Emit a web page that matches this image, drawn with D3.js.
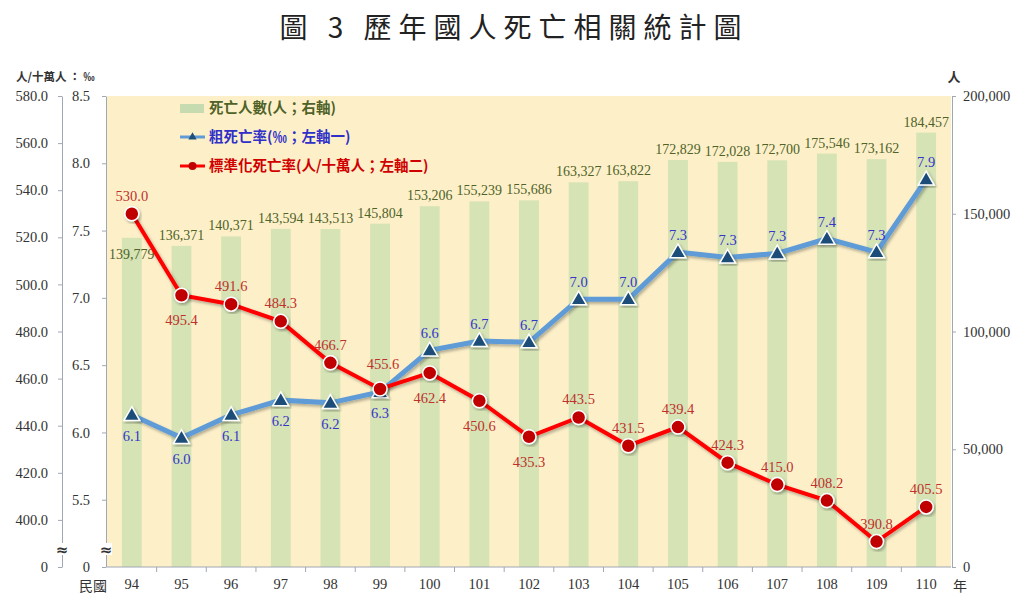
<!DOCTYPE html>
<html>
<head>
<meta charset="utf-8">
<script src="https://cdn.jsdelivr.net/npm/d3@7"></script>
<style>
  body { margin: 0; background: #fff; }
  svg text { font-family: "Liberation Serif", "DejaVu Serif", serif; }
  .cjk { font-family: "Noto Sans CJK TC", "Noto Sans", sans-serif; }
</style>
</head>
<body>
<svg id="drawing_region"></svg>
<script>
// 民國年
const years = ["94","95","96","97","98","99","100","101","102","103","104","105","106","107","108","109","110"];
// 死亡人數 (人, right axis)
const deaths = [139779,136371,140371,143594,143513,145804,153206,155239,155686,163327,163822,172829,172028,172700,175546,173162,184457];
// 粗死亡率 (‰, left axis 1)
const crudeRate = [6.13,5.96,6.13,6.24,6.22,6.30,6.61,6.68,6.67,6.99,6.99,7.34,7.30,7.33,7.44,7.34,7.88];
// 標準化死亡率 (人/十萬人, left axis 2)
const stdRate = [530.0,495.4,491.6,484.3,466.7,455.6,462.4,450.6,435.3,443.5,431.5,439.4,424.3,415.0,408.2,390.8,405.5];

const stdTicks = [380,400,420,440,460,480,500,520,540,560,580];
const crudeTicks = [5.0,5.5,6.0,6.5,7.0,7.5,8.0,8.5];
const deathTicks = [0,50000,100000,150000,200000];

const legendLabels = ["死亡人數(人；右軸)", "粗死亡率(‰；左軸一)", "標準化死亡率(人/十萬人；左軸二)"];

const config = {
    width: 1024,
    height: 600,
    plot: {left: 107, right: 951, top: 96, bottom: 567}
};

const svg = d3.select('#drawing_region')
    .attr('width', config.width)
    .attr('height', config.height);

const p = config.plot;

const defs = svg.append('defs');
const shadow = defs.append('filter').attr('id', 'shadow')
    .attr('x', '-20%').attr('y', '-20%').attr('width', '140%').attr('height', '140%');
shadow.append('feDropShadow')
    .attr('dx', 1.5).attr('dy', 2).attr('stdDeviation', 1.5)
    .attr('flood-color', '#000').attr('flood-opacity', 0.3);

// scales
const xscale = d3.scaleBand()
    .domain(years)
    .range([p.left, p.right])
    .paddingInner(0.6)
    .paddingOuter(0.3);

const yDeaths = d3.scaleLinear().domain([0, 200000]).range([p.bottom, p.top]);
const yCrude = d3.scaleLinear().domain([5.0, 8.5]).range([p.bottom, p.top]);
const yStd = d3.scaleLinear().domain([380, 580]).range([p.bottom, p.top]);

// title
svg.append('text')
    .attr('class', 'cjk')
    .attr('x', 514).attr('y', 38)
    .attr('text-anchor', 'middle')
    .style('font-size', '28px')
    .style('letter-spacing', '7px')
    .attr('fill', '#222')
    .text('圖 3  歷年國人死亡相關統計圖');

// plot background
svg.append('rect')
    .attr('x', p.left).attr('y', p.top)
    .attr('width', p.right - p.left).attr('height', p.bottom - p.top)
    .attr('fill', '#fdf0c9');

// bars
svg.append('g').selectAll('rect')
    .data(deaths)
    .join('rect')
    .attr('x', (d, i) => xscale(years[i]))
    .attr('y', d => yDeaths(d))
    .attr('width', xscale.bandwidth())
    .attr('height', d => yDeaths(0) - yDeaths(d))
    .attr('fill', '#d5e3b5');

// axes
function styleAxis(g) {
    g.select('.domain').attr('stroke', '#a0a8b4');
    g.selectAll('.tick line').attr('stroke', '#a0a8b4');
    g.selectAll('.tick text')
        .style('font-family', '"Liberation Serif", serif')
        .style('font-size', '14.5px')
        .attr('fill', '#333');
}

const axisStd = d3.axisLeft(yStd)
    .tickValues(stdTicks)
    .tickSize(4).tickSizeOuter(0).tickPadding(10)
    .tickFormat(d => d === 380 ? '0' : d3.format('.1f')(d));
svg.append('g').attr('transform', 'translate(62,0)').call(axisStd).call(styleAxis);

const axisCrude = d3.axisLeft(yCrude)
    .tickValues(crudeTicks)
    .tickSize(4).tickSizeOuter(0).tickPadding(12)
    .tickFormat(d => d === 5.0 ? '0' : d3.format('.1f')(d));
svg.append('g').attr('transform', `translate(${p.left - 1},0)`).call(axisCrude).call(styleAxis);

const axisDeaths = d3.axisRight(yDeaths)
    .tickValues(deathTicks)
    .tickSize(4).tickSizeOuter(0).tickPadding(7)
    .tickFormat(d3.format(','));
svg.append('g').attr('transform', `translate(${p.right + 1},0)`).call(axisDeaths).call(styleAxis);

// x axis: ticks between categories
const xAxisG = svg.append('g').attr('transform', `translate(0,${p.bottom})`);
xAxisG.append('line')
    .attr('x1', p.left).attr('x2', p.right)
    .attr('stroke', '#a0a8b4');
xAxisG.selectAll('.sep')
    .data(years.slice(1))
    .join('line')
    .attr('x1', d => xscale(d) - xscale.step() * xscale.paddingInner() / 2)
    .attr('x2', d => xscale(d) - xscale.step() * xscale.paddingInner() / 2)
    .attr('y1', 0).attr('y2', 5)
    .attr('stroke', '#a0a8b4');
xAxisG.selectAll('.xlab')
    .data(years)
    .join('text')
    .attr('x', d => xscale(d) + xscale.bandwidth() / 2)
    .attr('y', 22)
    .attr('text-anchor', 'middle')
    .style('font-size', '14.5px')
    .attr('fill', '#333')
    .text(d => d);
xAxisG.append('text').attr('class', 'cjk')
    .attr('x', 93).attr('y', 24).attr('text-anchor', 'middle')
    .style('font-size', '14px').attr('fill', '#333').text('民國');
xAxisG.append('text').attr('class', 'cjk')
    .attr('x', 960).attr('y', 24).attr('text-anchor', 'middle')
    .style('font-size', '14px').attr('fill', '#333').text('年');

// axis breaks
[62, p.left - 1].forEach(x => {
    svg.append('rect').attr('x', x - 6).attr('y', 543).attr('width', 12).attr('height', 12).attr('fill', '#fff');
    svg.append('text').attr('x', x).attr('y', 555)
        .attr('text-anchor', 'middle')
        .style('font-family', '"DejaVu Sans", sans-serif')
        .style('font-size', '15px').style('font-weight', 'bold')
        .attr('fill', '#333').text('≈');
});

// axis unit labels
svg.append('text').attr('class', 'cjk')
    .attr('x', 16).attr('y', 81)
    .style('font-size', '11.5px').style('font-weight', 'bold')
    .attr('fill', '#333').text('人/十萬人 ： ‰');
svg.append('text').attr('class', 'cjk')
    .attr('x', 954).attr('y', 82).attr('text-anchor', 'middle')
    .style('font-size', '13px').style('font-weight', 'bold')
    .attr('fill', '#333').text('人');

// deaths labels
svg.append('g').selectAll('text')
    .data(deaths)
    .join('text')
    .attr('x', (d, i) => xscale(years[i]) + xscale.bandwidth() / 2)
    .attr('y', (d, i) => yDeaths(d) + (i === 0 ? 21 : -6))
    .attr('text-anchor', 'middle')
    .style('font-size', '14px')
    .attr('fill', '#4f6228')
    .text(d => d3.format(',')(d));

const cx = (d, i) => xscale(years[i]) + xscale.bandwidth() / 2;

// crude rate line
const crudeLine = d3.line()
    .x((d, i) => cx(d, i))
    .y(d => yCrude(d));
svg.append('path')
    .datum(crudeRate)
    .attr('d', crudeLine)
    .attr('fill', 'none')
    .attr('stroke', '#5f9bd6')
    .attr('stroke-width', 5)
    .attr('filter', 'url(#shadow)');

// standardized rate line
const stdLine = d3.line()
    .x((d, i) => cx(d, i))
    .y(d => yStd(d));
svg.append('path')
    .datum(stdRate)
    .attr('d', stdLine)
    .attr('fill', 'none')
    .attr('stroke', '#ff0000')
    .attr('stroke-width', 4)
    .attr('filter', 'url(#shadow)');

const tri = d3.symbol().type(d3.symbolTriangle).size(110);

svg.append('g').selectAll('path')
    .data(crudeRate)
    .join('path')
    .attr('d', tri)
    .attr('transform', (d, i) => `translate(${cx(d, i)},${yCrude(d) + 1})`)
    .attr('fill', '#1f4e79')
    .attr('stroke', '#fff')
    .attr('stroke-width', 1.5)
    .attr('filter', 'url(#shadow)');

svg.append('g').selectAll('circle')
    .data(stdRate)
    .join('circle')
    .attr('cx', (d, i) => cx(d, i))
    .attr('cy', d => yStd(d))
    .attr('r', 7)
    .attr('fill', '#c00000')
    .attr('stroke', '#fff')
    .attr('stroke-width', 1.5)
    .attr('filter', 'url(#shadow)');

// crude rate labels: below for early years, above afterwards
svg.append('g').selectAll('text')
    .data(crudeRate)
    .join('text')
    .attr('x', (d, i) => cx(d, i))
    .attr('y', (d, i) => yCrude(d) + (i < 6 ? 26 : -12))
    .attr('text-anchor', 'middle')
    .style('font-size', '14.5px')
    .attr('fill', '#3535c8')
    .text(d => d3.format('.1f')(d));

// standardized rate labels
const stdBelow = [1, 6, 7, 8];
svg.append('g').selectAll('text')
    .data(stdRate)
    .join('text')
    .attr('x', (d, i) => cx(d, i) + (i === 5 ? 3 : 0))
    .attr('y', (d, i) => yStd(d) + (stdBelow.includes(i) ? 30 : (i === 5 ? -20 : -13)))
    .attr('text-anchor', 'middle')
    .style('font-size', '14.5px')
    .attr('fill', '#c0312b')
    .text(d => d3.format('.1f')(d));

// legend
const legend = svg.append('g');
const legendColors = ['#4f6228', '#3030c8', '#d00000'];
const legendY = [108, 137, 166];

legend.append('rect')
    .attr('x', 180).attr('y', legendY[0] - 4)
    .attr('width', 24).attr('height', 9)
    .attr('fill', '#c6dcb0');

legend.append('line')
    .attr('x1', 180).attr('x2', 205)
    .attr('y1', legendY[1]).attr('y2', legendY[1])
    .attr('stroke', '#5f9bd6').attr('stroke-width', 3);
legend.append('path')
    .attr('d', d3.symbol().type(d3.symbolTriangle).size(30))
    .attr('transform', `translate(192.5,${legendY[1]})`)
    .attr('fill', '#1f4e79');

legend.append('line')
    .attr('x1', 180).attr('x2', 205)
    .attr('y1', legendY[2]).attr('y2', legendY[2])
    .attr('stroke', '#ff0000').attr('stroke-width', 3);
legend.append('circle')
    .attr('cx', 192.5).attr('cy', legendY[2]).attr('r', 4)
    .attr('fill', '#c00000');

legend.selectAll('.ltext')
    .data(legendLabels)
    .join('text')
    .attr('class', 'cjk')
    .attr('x', 209)
    .attr('y', (d, i) => legendY[i] + 5)
    .style('font-size', '14.5px')
    .style('font-weight', 'bold')
    .attr('fill', (d, i) => legendColors[i])
    .text(d => d);
</script>
</body>
</html>
